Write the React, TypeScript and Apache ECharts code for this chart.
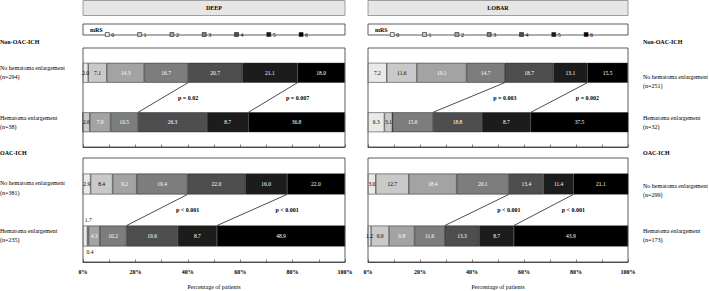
import React, { useEffect, useRef } from 'react';
import * as echarts from 'echarts';

const mrsLevels = ['0', '1', '2', '3', '4', '5', '6'];
const rowNames = ['No hematoma enlargement', 'Hematoma enlargement'];

const deepNonOacNoHE = [2.0, 7.1, 14.3, 16.7, 20.7, 21.1, 18.0];
const deepNonOacHE = [0, 2.6, 7.9, 10.5, 26.3, 15.8, 36.8];
const deepOacNoHE = [2.9, 8.4, 9.2, 19.4, 22.0, 16.0, 22.0];
const deepOacHE = [1.7, 0.4, 4.3, 10.2, 19.6, 14.9, 48.9];
const lobarNonOacNoHE = [7.2, 11.6, 19.1, 14.7, 18.7, 13.1, 15.5];
const lobarNonOacHE = [6.3, 3.1, 0, 15.6, 18.8, 18.8, 37.5];
const lobarOacNoHE = [3.0, 12.7, 18.4, 20.1, 13.4, 11.4, 21.1];
const lobarOacHE = [1.2, 6.9, 9.8, 11.6, 13.3, 13.3, 43.9];

// label printed on the mRS 5 segment of the hematoma enlargement rows, as it appears in the figure
const heMrs5Printed = ['8.7', '8.7', '8.7', '8.7'];

const nDeep = ['(n=294)', '(n=38)', '(n=381)', '(n=235)'];
const nLobar = ['(n=251)', '(n=32)', '(n=299)', '(n=173)'];
const pDeep = ['p = 0.02', 'p = 0.007', 'p < 0.001', 'p < 0.001'];
const pLobar = ['p = 0.003', 'p = 0.002', 'p < 0.001', 'p < 0.001'];
const groupNames = ['Non-OAC-ICH', 'OAC-ICH'];
const locations = ['DEEP', 'LOBAR'];

const mrsColors = ['#e9e9e9', '#c9c9c9', '#a3a3a3', '#7d7d7d', '#4e4e4e', '#1c1c1c', '#000000'];
const FONT = 'Liberation Serif';

const panels = [
  { rows: [deepNonOacNoHE, deepNonOacHE], p: [pDeep[0], pDeep[1]], printed: heMrs5Printed[0] },
  { rows: [deepOacNoHE, deepOacHE], p: [pDeep[2], pDeep[3]], printed: heMrs5Printed[1] },
  { rows: [lobarNonOacNoHE, lobarNonOacHE], p: [pLobar[0], pLobar[1]], printed: heMrs5Printed[2] },
  { rows: [lobarOacNoHE, lobarOacHE], p: [pLobar[2], pLobar[3]], printed: heMrs5Printed[3] },
];

const gridBoxes = [
  { left: 83, width: 262, top: 48, height: 99 },
  { left: 83, width: 262, top: 158, height: 106 },
  { left: 368, width: 260, top: 48, height: 99 },
  { left: 368, width: 260, top: 158, height: 106 },
];

const cum = (arr: number[], upto: number) => arr.slice(0, upto + 1).reduce((a, b) => a + b, 0);

function buildOption() {
  const grids = gridBoxes.map((b) => ({
    ...b,
    show: true,
    borderColor: '#333',
    borderWidth: 0.8,
    backgroundColor: '#fff',
    containLabel: false,
  }));
  const xAxes = gridBoxes.map((_, g) => {
    const bottom = g % 2 === 1;
    return {
      type: 'value',
      gridIndex: g,
      min: 0,
      max: 100,
      interval: 10,
      splitLine: { show: false },
      axisLine: { show: true, lineStyle: { color: '#333', width: 0.8 } },
      axisTick: { show: true, inside: true, length: 2.5, lineStyle: { color: '#333', width: 0.6 } },
      axisLabel: {
        show: bottom,
        margin: 7,
        fontSize: 6,
        fontWeight: 'bold',
        fontFamily: FONT,
        color: '#000',
        formatter: (v: number) => (v % 20 === 0 ? v + '%' : ''),
      },
      name: bottom ? 'Percentage of patients' : '',
      nameLocation: 'middle',
      nameGap: 22,
      nameTextStyle: { fontSize: 6, fontFamily: FONT, color: '#000' },
    };
  });
  const yAxes = gridBoxes.map((_, g) => ({
    type: 'category',
    gridIndex: g,
    data: rowNames,
    inverse: true,
    show: false,
  }));

  const series: any[] = [];
  panels.forEach((panel, g) => {
    mrsLevels.forEach((lvl, i) => {
      series.push({
        name: lvl,
        type: 'bar',
        xAxisIndex: g,
        yAxisIndex: g,
        stack: 'g' + g,
        barWidth: '40%',
        itemStyle: { color: mrsColors[i], borderColor: '#222', borderWidth: 0.5 },
        data: panel.rows.map((row, r) => {
          const v = row[i];
          const prev = i > 0 ? row[i - 1] : 99;
          const next = i < row.length - 1 ? row[i + 1] : 99;
          let position: any = 'inside';
          let offset = [0, 0];
          if (v > 0 && v < 1) {
            position = 'bottom';
            offset = [2, -2];
          } else if (v < 2 && (next < 1 || prev < 1)) {
            position = 'top';
            offset = [3, 2];
          }
          const outside = position !== 'inside';
          const text = r === 1 && i === 5 ? panel.printed : v.toFixed(1);
          return {
            value: v,
            label: {
              show: v > 0,
              position,
              offset,
              formatter: text,
              fontSize: 5.5,
              fontFamily: FONT,
              color: outside || i <= 1 ? '#000' : '#fff',
            },
          };
        }),
      });
    });
    const [top, bot] = panel.rows;
    const pTexts = panel.p;
    series.push({
      type: 'custom',
      name: 'connectors' + g,
      xAxisIndex: g,
      yAxisIndex: g,
      z: 5,
      encode: { x: [0, 2], y: 1 },
      data: [
        [cum(top, 3), 0, cum(bot, 3)],
        [cum(top, 5), 0, cum(bot, 5)],
      ],
      renderItem: (params: any, api: any) => {
        const p1 = api.coord([api.value(0), 0]);
        const p2 = api.coord([api.value(2), 1]);
        const half = api.size([0, 1])[1] * 0.2;
        const y1 = p1[1] + half;
        const y2 = p2[1] - half;
        return {
          type: 'group',
          children: [
            {
              type: 'line',
              shape: { x1: p1[0], y1, x2: p2[0], y2 },
              style: { stroke: '#000', lineWidth: 0.7 },
            },
            {
              type: 'text',
              style: {
                text: pTexts[params.dataIndex],
                x: p1[0],
                y: (y1 + y2) / 2,
                align: 'center',
                verticalAlign: 'middle',
                fontSize: 6,
                fontWeight: 'bold',
                fontFamily: FONT,
                fill: '#000',
              },
            },
          ],
        };
      },
    });
  });

  const graphic: any[] = [];
  const txt = (text: string, x: number, y: number, opts: any = {}) => ({
    type: 'text',
    x,
    y,
    style: {
      text,
      fontSize: 6,
      fontFamily: FONT,
      fill: '#000',
      align: 'left',
      verticalAlign: 'middle',
      ...opts,
    },
  });
  [0, 1].forEach((side) => {
    const b = gridBoxes[side * 2];
    graphic.push({
      type: 'rect',
      shape: { x: b.left, y: 0.5, width: b.width, height: 15 },
      style: { fill: '#e6e6e6', stroke: '#888', lineWidth: 0.8 },
    });
    graphic.push(txt(locations[side], b.left + b.width / 2, 8, { align: 'center', fontWeight: 'bold' }));
    graphic.push({
      type: 'rect',
      shape: { x: b.left, y: 24, width: b.width, height: 11 },
      style: { fill: '#fff', stroke: '#333', lineWidth: 0.8 },
    });
    graphic.push(txt('mRS', b.left + 7, 29.5, { fontWeight: 'bold' }));
  });
  // left labels (DEEP)
  graphic.push(txt(groupNames[0], 0, 42, { fontWeight: 'bold' }));
  graphic.push(txt(rowNames[0], 0, 68));
  graphic.push(txt(nDeep[0], 0, 77));
  graphic.push(txt(rowNames[1], 0, 118));
  graphic.push(txt(nDeep[1], 0, 127));
  graphic.push(txt(groupNames[1], 0, 153, { fontWeight: 'bold' }));
  graphic.push(txt(rowNames[0], 0, 183));
  graphic.push(txt(nDeep[2], 0, 193));
  graphic.push(txt(rowNames[1], 0, 231));
  graphic.push(txt(nDeep[3], 0, 240));
  // right labels (LOBAR)
  graphic.push(txt(groupNames[0], 643, 42, { fontWeight: 'bold' }));
  graphic.push(txt(rowNames[0], 643, 77));
  graphic.push(txt(nLobar[0], 643, 86));
  graphic.push(txt(rowNames[1], 643, 118));
  graphic.push(txt(nLobar[1], 643, 127));
  graphic.push(txt(groupNames[1], 643, 153, { fontWeight: 'bold' }));
  graphic.push(txt(rowNames[0], 643, 186));
  graphic.push(txt(nLobar[2], 643, 195));
  graphic.push(txt(rowNames[1], 643, 231));
  graphic.push(txt(nLobar[3], 643, 240));

  const legendBase = {
    top: 26.5,
    icon: 'rect',
    itemWidth: 4,
    itemHeight: 4,
    itemGap: 23,
    data: mrsLevels,
    selectedMode: false,
    itemStyle: { borderColor: '#222', borderWidth: 0.6 },
    textStyle: { fontSize: 6, fontFamily: FONT, color: '#000', padding: [0, 0, 0, -3] },
  };

  return {
    animation: false,
    textStyle: { fontFamily: FONT },
    grid: grids,
    xAxis: xAxes,
    yAxis: yAxes,
    legend: [
      { ...legendBase, left: 100 },
      { ...legendBase, left: 385 },
    ],
    series,
    graphic,
  };
}

export default function App() {
  const ref = useRef<HTMLDivElement>(null);
  useEffect(() => {
    if (!ref.current) return;
    const chart = echarts.init(ref.current, undefined, { renderer: 'svg' });
    chart.setOption(buildOption() as any);
    return () => chart.dispose();
  }, []);
  return (
    <div
      ref={ref}
      style={{ position: 'fixed', left: 0, top: 0, width: 709, height: 291, background: '#fff' }}
    />
  );
}
